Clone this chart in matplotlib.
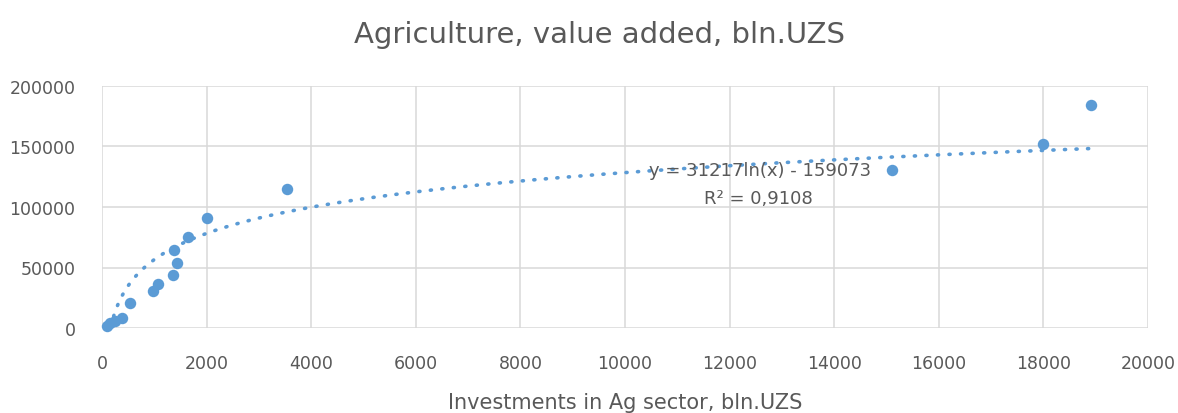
import numpy as np
import matplotlib
matplotlib.use("Agg")
import matplotlib.pyplot as plt

# Data
investments = [90, 150, 250, 375, 535, 970, 1075, 1350, 1430, 1375, 1640, 2000, 3540, 15110, 18000, 18910]
value_added = [2000, 4000, 6000, 8000, 20500, 30500, 36000, 43500, 53500, 64500, 75000, 91000, 114500, 130500, 152000, 184500]

# Logarithmic trendline coefficients (as shown on the chart)
trend_a = 31217
trend_b = -159073
trend_label = "y = 31217ln(x) - 159073"
r2_label = "R² = 0,9108"

title = "Agriculture, value added, bln.UZS"
xlabel = "Investments in Ag sector, bln.UZS"
xticks = [0, 2000, 4000, 6000, 8000, 10000, 12000, 14000, 16000, 18000, 20000]
yticks = [0, 50000, 100000, 150000, 200000]

blue = "#5B9BD5"
grey_text = "#595959"
grid_c = "#D9D9D9"

plt.rcParams['font.family'] = ['DejaVu Sans']

fig = plt.figure(figsize=(11.78, 4.14), dpi=100)
ax = fig.add_axes([102/1178, 1-329/414, (1148-102)/1178, (329-87)/414])

xs = np.linspace(min(investments), max(investments), 3000)
ys = trend_a*np.log(xs) + trend_b
mask = ys >= 0
ax.plot(xs[mask], ys[mask], color=blue, lw=2.6, linestyle=(0, (0.3, 2.9)),
        dash_capstyle='round', zorder=2)

ax.scatter(investments, value_added, s=68, color=blue, zorder=3, clip_on=False, linewidths=0)

ax.set_xlim(0, 20000)
ax.set_ylim(0, 200000)
ax.set_xticks(xticks)
ax.set_yticks(yticks)
ax.grid(True, color=grid_c, lw=1.1)
ax.set_axisbelow(True)
for s in ax.spines.values():
    s.set_visible(False)
ax.tick_params(length=0, labelsize=12.5, colors=grey_text)
ax.yaxis.set_tick_params(pad=19)
ax.xaxis.set_tick_params(pad=18.5)

ax.text((760-102)/1046, (329-171)/242, trend_label, transform=ax.transAxes,
        ha='center', va='center', fontsize=13, color=grey_text)
ax.text((758-102)/1046, (329-199)/242, r2_label, transform=ax.transAxes,
        ha='center', va='center', fontsize=13, color=grey_text)

fig.text(600/1178, 1-35/414, title, ha='center', va='center', fontsize=21, color=grey_text)
fig.text(625/1178, 1-403/414, xlabel, ha='center', va='center', fontsize=15, color=grey_text)

fig.savefig("out.png", dpi=100)
